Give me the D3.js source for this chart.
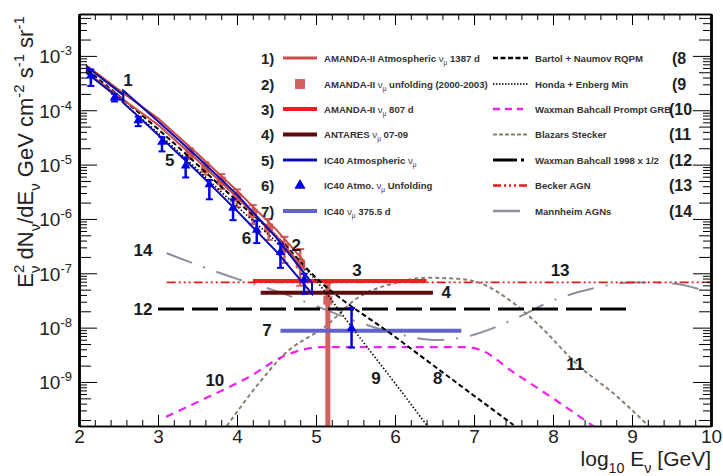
<!DOCTYPE html>
<html>
<head>
<meta charset="utf-8">
<script src="https://cdn.jsdelivr.net/npm/d3@7"></script>
<style>
  body { margin: 0; background: #fff; }
  text { font-family: "Liberation Sans", Arial, sans-serif; }
</style>
</head>
<body>
<svg width="723" height="476"></svg>
<script>
// ---- data (x = log10 E/GeV, y = E^2 dN/dE) ----

// 1) AMANDA-II atmospheric band
let amaBandX  = [2.1, 2.5, 3.0, 3.5, 4.0, 4.5, 4.85];
let amaBandHi = [6.6e-4, 2.4e-4, 7.1e-5, 1.58e-5, 3.3e-6, 6.3e-7, 1.66e-7];
let amaBandLo = [5.0e-4, 1.8e-4, 5.4e-5, 1.2e-5, 2.5e-6, 4.8e-7, 1.2e-7];

// 2) AMANDA-II unfolding
let amaUnfX  = [3.4, 3.6, 3.8, 4.0, 4.2, 4.4, 4.6, 4.8, 5.15];
let amaUnfY  = [1.6e-5, 8.5e-6, 5.0e-6, 2.5e-6, 1.26e-6, 6.8e-7, 2.95e-7, 1.48e-7, 3.2e-8];
let amaUnfHi = [2.0e-5, 1.1e-5, 6.7e-6, 3.5e-6, 1.8e-6, 1.0e-6, 4.7e-7, 2.8e-7, 6.6e-8];
let amaUnfLo = [1.26e-5, 6.5e-6, 3.55e-6, 1.65e-6, 8.0e-7, 4.1e-7, 1.55e-7, 5.9e-8, 1e-10];

// 5) IC40 atmospheric band (narrow low-energy piece + main piece)
let icBandAX  = [2.1, 2.56];
let icBandAHi = [6.3e-4, 1.9e-4];
let icBandALo = [4.8e-4, 1.45e-4];
let icBandBX  = [2.56, 3.0, 3.5, 4.0, 4.5, 4.95];
let icBandBHi = [2.3e-4, 6.3e-5, 1.38e-5, 2.8e-6, 4.5e-7, 6.6e-8];
let icBandBLo = [1.38e-4, 3.55e-5, 7.4e-6, 1.41e-6, 2.5e-7, 4.2e-8];

// 6) IC40 unfolding
let icUnfX  = [2.15, 2.45, 2.75, 3.05, 3.35, 3.65, 3.95, 4.25, 4.55, 4.85, 5.45];
let icUnfY  = [4.3e-4, 1.7e-4, 6.5e-5, 2.6e-5, 9.5e-6, 4.3e-6, 1.6e-6, 6.3e-7, 2.45e-7, 7.6e-8, 9.8e-9];
let icUnfHi = [5.6e-4, 2.0e-4, 7.6e-5, 3.2e-5, 1.35e-5, 5.2e-6, 2.3e-6, 9.3e-7, 3.5e-7, 9.8e-8, 2.3e-8];
let icUnfLo = [2.8e-4, 1.45e-4, 5.1e-5, 1.75e-5, 5.8e-6, 2.3e-6, 9.5e-7, 3.6e-7, 1.26e-7, 4.2e-8, 4.3e-9];

// horizontal limits: [xStart, xEnd, level]
let lim3  = [4.2, 6.4, 7.2e-8];    // AMANDA-II 807 d
let lim4  = [4.3, 6.48, 4.4e-8];   // ANTARES 07-09
let lim7  = [4.55, 6.84, 8.8e-9];  // IC40 375.5 d
let lim12 = [3.0, 9.02, 2.2e-8];   // Waxman Bahcall 1998 x 1/2
let lim13 = [3.11, 10, 6.8e-8];    // Becker AGN

// model curves
let bartolX = [2.1, 3, 4, 4.5, 5, 6, 7, 7.5];
let bartolY = [5.6e-4, 4.5e-5, 2.14e-6, 4.8e-7, 8.3e-8, 6.8e-9, 5.6e-10, 1.62e-10];
let hondaX  = [2.1, 3, 4, 4.5, 4.92, 5.5, 6, 6.41];
let hondaY  = [5.0e-4, 3.8e-5, 1.7e-6, 3.8e-7, 1.0e-7, 8.3e-9, 9.5e-10, 1.55e-10];
let grbX = [3.1, 3.6, 4.16, 4.58, 4.85, 5.05, 6.9, 7.08, 7.5, 8.0, 8.52];
let grbY = [2.29e-10, 5.0e-10, 1.26e-9, 2.95e-9, 3.98e-9, 4.37e-9, 4.37e-9, 3.89e-9, 1.51e-9, 5.0e-10, 1.51e-10];
let blazX = [3.87, 4.29, 4.59, 5.14, 5.52, 6.0, 6.4, 6.8, 7.08, 7.5, 7.79, 8.34, 8.8, 9.21];
let blazY = [1.55e-10, 1e-9, 3.16e-9, 1.12e-8, 3.47e-8, 6.6e-8, 8.3e-8, 7.9e-8, 6.6e-8, 2.82e-8, 1.23e-8, 1.9e-9, 5.6e-10, 1.55e-10];
let mannX = [3.11, 4.0, 4.5, 5.0, 5.5, 6.0, 6.5, 6.9, 7.5, 8.0, 8.5, 9.0, 9.5, 10];
let mannY = [2.34e-7, 7.9e-8, 4.7e-8, 2.5e-8, 1.32e-8, 7.9e-9, 5.9e-9, 6.8e-9, 1.41e-8, 3.16e-8, 5.25e-8, 6.8e-8, 6.5e-8, 4.3e-8];

// in-plot curve labels: [text, x, y of baseline]
let curveLabels = [
  ["1", 2.62, 2.8e-4], ["5", 3.15, 9.5e-6], ["6", 4.12, 3.5e-7], ["2", 4.75, 2.6e-7],
  ["3", 5.52, 8.9e-8], ["4", 6.65, 3.55e-8], ["7", 4.38, 7.1e-9], ["9", 5.76, 9.2e-10],
  ["8", 6.54, 9.2e-10], ["14", 2.81, 2.1e-7], ["12", 2.81, 1.7e-8], ["10", 3.72, 8.5e-10],
  ["11", 8.28, 1.66e-9], ["13", 8.09, 8.9e-8]
];

let xTicksMajor = [2, 3, 4, 5, 6, 7, 8, 9, 10];
let yDecadeExps = [-9, -8, -7, -6, -5, -4, -3];

let legendLeft = [
  ["1)", [["AMANDA-II Atmospheric "], ["ν", "n"], ["μ", "sub"], [" 1387 d"]]],
  ["2)", [["AMANDA-II "], ["ν", "n"], ["μ", "sub"], [" unfolding (2000-2003)"]]],
  ["3)", [["AMANDA-II "], ["ν", "n"], ["μ", "sub"], [" 807 d"]]],
  ["4)", [["ANTARES "], ["ν", "n"], ["μ", "sub"], [" 07-09"]]],
  ["5)", [["IC40 Atmospheric "], ["ν", "n"], ["μ", "sub"]]],
  ["6)", [["IC40 Atmo. "], ["ν", "n"], ["μ", "sub"], [" Unfolding"]]],
  ["7)", [["IC40 "], ["ν", "n"], ["μ", "sub"], [" 375.5 d"]]]
];
let legendRight = [
  ["(8", "Bartol + Naumov RQPM"],
  ["(9", "Honda + Enberg Min"],
  ["(10", "Waxman Bahcall Prompt GRB"],
  ["(11", "Blazars Stecker"],
  ["(12", "Waxman Bahcall 1998 x 1/2"],
  ["(13", "Becker AGN"],
  ["(14", "Mannheim AGNs"]
];

// ---- drawing ----
let svg = d3.select("svg");
let x = d3.scaleLinear().domain([2, 10]).range([79, 711]);
let y = d3.scaleLog().domain([1.55e-10, 5.9e-3]).range([426, 14]);

let col = {
  c1: "#c94a46", sq: "#d2625e", c3: "#f01e1e", c4: "#5e0b0b", c5: "#0a0ab4",
  c6: "#0000e6", c7: "#6262cc", c10: "#ee22ee", c11: "#8a7e72", c13: "#e81818", c14: "#8e8e9e"
};

svg.append("clipPath").attr("id", "plot")
  .append("rect").attr("x", 79).attr("y", 14).attr("width", 632).attr("height", 412);

let plot = svg.append("g").attr("clip-path", "url(#plot)");

let zip = (xs, ys) => xs.map((v, i) => [v, ys[i]]);
let smooth = d3.line().x(d => x(d[0])).y(d => y(d[1])).curve(d3.curveMonotoneX);
let straight = d3.line().x(d => x(d[0])).y(d => y(d[1]));
let closed = d3.line().x(d => x(d[0])).y(d => y(d[1])).curve(d3.curveLinearClosed);

function curve(xs, ys, color, w, dash) {
  plot.append("path").attr("d", smooth(zip(xs, ys)))
    .attr("fill", "none").attr("stroke", color).attr("stroke-width", w)
    .attr("stroke-dasharray", dash || null);
}
function hline(l, color, w, dash) {
  plot.append("path").attr("d", straight([[l[0], l[2]], [l[1], l[2]]]))
    .attr("fill", "none").attr("stroke", color).attr("stroke-width", w)
    .attr("stroke-dasharray", dash || null);
}
function band(xs, hi, lo, color, w) {
  let pts = zip(xs, hi).concat(zip(xs, lo).reverse());
  plot.append("path").attr("d", closed(pts))
    .attr("fill", "none").attr("stroke", color).attr("stroke-width", w);
}

// models
curve(mannX, mannY, col.c14, 2, "27,12,2,12");
hline(lim13, col.c13, 1.6, "9,3,2,3,2,3,2,3");
curve(blazX, blazY, col.c11, 2, "4,3");
curve(grbX, grbY, col.c10, 2.2, "8,6");

// AMANDA unfolding error bars (behind lines)
let sqG = plot.append("g");
amaUnfX.forEach((v, i) => {
  let last = i === amaUnfX.length - 1;
  sqG.append("line").attr("x1", x(v)).attr("x2", x(v))
    .attr("y1", y(amaUnfHi[i])).attr("y2", y(amaUnfLo[i]))
    .attr("stroke", col.sq).attr("stroke-width", last ? 5 : 2.5);
  [amaUnfHi[i], amaUnfLo[i]].forEach(e => {
    if (e > 1e-9) sqG.append("line").attr("x1", x(v) - 4).attr("x2", x(v) + 4)
      .attr("y1", y(e)).attr("y2", y(e)).attr("stroke", col.sq).attr("stroke-width", 2);
  });
  sqG.append("rect").attr("x", x(v) - 4.5).attr("y", y(amaUnfY[i]) - 4.5)
    .attr("width", 9).attr("height", 9).attr("fill", col.sq);
});

hline(lim12, "#000", 3, "26,8");
hline(lim3, col.c3, 4);
hline(lim4, col.c4, 4);
hline(lim7, col.c7, 4);

curve(bartolX, bartolY, "#000", 2, "5,3");
curve(hondaX, hondaY, "#000", 1.6, "1.5,2");

band(amaBandX, amaBandHi, amaBandLo, col.c1, 2);
band(icBandAX, icBandAHi, icBandALo, col.c5, 2);
band(icBandBX, icBandBHi, icBandBLo, col.c5, 2);

// IC40 unfolding points
let triG = plot.append("g");
icUnfX.forEach((v, i) => {
  triG.append("line").attr("x1", x(v)).attr("x2", x(v))
    .attr("y1", y(icUnfHi[i])).attr("y2", y(icUnfLo[i]))
    .attr("stroke", col.c6).attr("stroke-width", 2.5);
  [icUnfHi[i], icUnfLo[i]].forEach(e => {
    triG.append("line").attr("x1", x(v) - 3.5).attr("x2", x(v) + 3.5)
      .attr("y1", y(e)).attr("y2", y(e)).attr("stroke", col.c6).attr("stroke-width", 2);
  });
  triG.append("path").attr("d", d3.symbol(d3.symbolTriangle).size(40)())
    .attr("transform", `translate(${x(v)},${y(icUnfY[i])})`).attr("fill", col.c6);
});

// curve labels
svg.append("g").selectAll("text").data(curveLabels).join("text")
  .attr("x", d => x(d[1])).attr("y", d => y(d[2]))
  .attr("text-anchor", "middle").attr("font-size", 17).attr("font-weight", "bold")
  .attr("fill", "#1a1a1a")
  .text(d => d[0]);

// ---- axes ----
function styleAxis(g) {
  g.select(".domain").attr("stroke", "#000").attr("stroke-width", 1.5);
  g.selectAll(".tick line").attr("stroke", "#000");
}
let xMinor = d3.range(2, 10.001, 0.2);
svg.append("g").attr("transform", "translate(0,426)")
  .call(d3.axisBottom(x).tickValues(xMinor).tickSize(-6).tickSizeOuter(0).tickFormat(""))
  .call(styleAxis);
svg.append("g").attr("transform", "translate(0,426)")
  .call(d3.axisBottom(x).tickValues(xTicksMajor).tickSize(-11).tickSizeOuter(0).tickPadding(4).tickFormat(d3.format("d")))
  .call(styleAxis)
  .call(g => g.selectAll("text").attr("font-size", 19).attr("fill", "#222")
    .attr("font-family", "Liberation Sans, Arial, sans-serif"));
svg.append("g").attr("transform", "translate(0,14)")
  .call(d3.axisTop(x).tickValues(xMinor).tickSize(-6).tickSizeOuter(0).tickFormat(""))
  .call(styleAxis);
svg.append("g").attr("transform", "translate(0,14)")
  .call(d3.axisTop(x).tickValues(xTicksMajor).tickSize(-11).tickSizeOuter(0).tickFormat(""))
  .call(styleAxis);

let yTicks = y.ticks();
let lead = v => Math.round(v / Math.pow(10, Math.floor(Math.log10(v) + 1e-9)));
[[1, 18], [2, 12], [5, 12], [3, 8], [4, 8], [6, 8], [7, 8], [8, 8], [9, 8]].forEach(([k, len]) => {
  let vals = yTicks.filter(v => lead(v) === k);
  svg.append("g").attr("transform", "translate(79,0)")
    .call(d3.axisLeft(y).tickValues(vals).tickSize(-len).tickSizeOuter(0).tickFormat(""))
    .call(styleAxis);
  svg.append("g").attr("transform", "translate(711,0)")
    .call(d3.axisRight(y).tickValues(vals).tickSize(-len).tickSizeOuter(0).tickFormat(""))
    .call(styleAxis);
});

// y tick labels 10^n
yDecadeExps.forEach(e => {
  let t = svg.append("text").attr("x", 72).attr("y", y(Math.pow(10, e)) + 7.5)
    .attr("text-anchor", "end").attr("font-size", 19).attr("fill", "#222");
  t.append("tspan").text("10");
  t.append("tspan").attr("dy", -8).attr("font-size", 13).text(String(e));
});

// rich text helper
function rich(t, segs, size) {
  let off = 0;
  segs.forEach(s => {
    let k = s[1] || "";
    let target = k.includes("sub") ? size * 0.32 : k.includes("sup") ? -size * 0.42 : 0;
    let ts = t.append("tspan").attr("dy", target - off)
      .attr("font-size", (k.includes("sub") || k.includes("sup")) ? size * 0.68 : size)
      .text(s[0]);
    if (k.includes("n") || k.includes("sub")) ts.attr("font-weight", "normal");
    if (k.includes("back")) ts.attr("dx", -size * 0.38);
    off = target;
  });
}

// axis titles
let xt = svg.append("text").attr("x", 711).attr("y", 466).attr("text-anchor", "end")
  .attr("fill", "#222");
rich(xt, [["log"], ["10", "sub"], [" E"], ["ν", "sub"], [" [GeV]"]], 21);

let yt = svg.append("text").attr("transform", "translate(33,152) rotate(-90)")
  .attr("text-anchor", "middle").attr("fill", "#222");
rich(yt, [["E"], ["2", "sup"], ["ν", "subback"], [" dN"], ["ν", "sub"], ["/dE"], ["ν", "sub"],
  [" GeV cm"], ["-2", "sup"], [" s"], ["-1", "sup"], [" sr"], ["-1", "sup"]], 22);

// ---- legend ----
let rowY = [58, 84, 109, 134.5, 160, 185.5, 211];
let lg = svg.append("g");
legendLeft.forEach((r, i) => {
  lg.append("text").attr("x", 261).attr("y", rowY[i] + 5.5).attr("font-size", 15)
    .attr("font-weight", "bold").attr("fill", "#222").text(r[0]);
  let t = lg.append("text").attr("x", 324).attr("y", rowY[i] + 3.5)
    .attr("font-size", 9.6).attr("font-weight", "bold").attr("fill", "#333");
  rich(t, r[1], 9.6);
});
let symL = (i, color, w) => lg.append("line").attr("x1", 283).attr("x2", 317)
  .attr("y1", rowY[i]).attr("y2", rowY[i]).attr("stroke", color).attr("stroke-width", w);
symL(0, col.c1, 3);
lg.append("rect").attr("x", 295).attr("y", rowY[1] - 5).attr("width", 10).attr("height", 10).attr("fill", col.sq);
symL(2, col.c3, 4);
symL(3, col.c4, 4);
symL(4, col.c5, 3);
lg.append("path").attr("d", d3.symbol(d3.symbolTriangle).size(55)())
  .attr("transform", `translate(300,${rowY[5]})`).attr("fill", col.c6);
symL(6, col.c7, 4);

legendRight.forEach((r, i) => {
  lg.append("text").attr("x", 535).attr("y", rowY[i] + 3.5).attr("font-size", 9.6)
    .attr("font-weight", "bold").attr("fill", "#333").text(r[1]);
  lg.append("text").attr("x", r[0].length > 2 ? 669 : 672).attr("y", rowY[i] + 5.5)
    .attr("font-size", 16).attr("font-weight", "bold").attr("fill", "#222").text(r[0]);
});
let symR = (i, color, w, dash, x2) => lg.append("line").attr("x1", 493).attr("x2", x2 || 528)
  .attr("y1", rowY[i]).attr("y2", rowY[i]).attr("stroke", color).attr("stroke-width", w)
  .attr("stroke-dasharray", dash || null);
symR(0, "#000", 2.5, "5,2.5");
symR(1, "#000", 1.6, "1.5,1.5");
symR(2, col.c10, 2.5, "7,5", 523);
symR(3, col.c11, 2, "4,2");
symR(4, "#000", 3, null, 517);
lg.append("rect").attr("x", 521).attr("y", rowY[4] - 1.5).attr("width", 3).attr("height", 3).attr("fill", "#000");
symR(5, col.c13, 2.5, "8,3,2,3,2,3,2,3");
symR(6, col.c14, 2.5, null, 520);
</script>
</body>
</html>
